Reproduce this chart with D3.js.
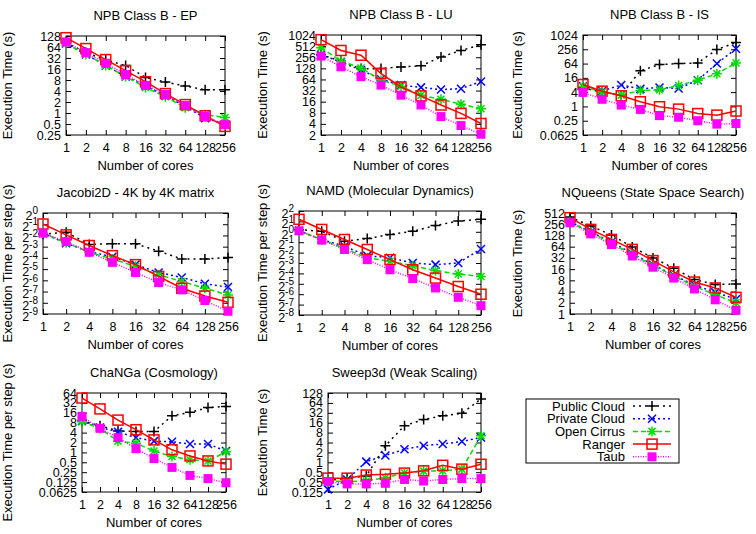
<!DOCTYPE html>
<html>
<head>
<meta charset="utf-8">
<script src="https://cdn.jsdelivr.net/npm/d3@7"></script>
<style>
  body { margin: 0; background: #fff; }
  svg { font-family: "Liberation Sans", Arial, sans-serif; }
</style>
</head>
<body>
<svg id="chart" width="756" height="534"></svg>
<script>
let cores = [1, 2, 4, 8, 16, 32, 64, 128, 256];
let seriesNames = ["Public Cloud", "Private Cloud", "Open Cirrus", "Ranger", "Taub"];

// each panel: rows in the order of seriesNames
let epTimes = [
    [85, 45, 28, 20, 9.4, 7, 5.5, 4.3, 4.3],
    [80, 40, 20, 10, 5.5, 3, 1.5, 0.72, 0.5],
    [80, 40, 20, 10, 5, 2.8, 1.4, 0.9, 0.75],
    [115, 58, 29, 14.5, 7.2, 3.4, 1.7, 0.84, 0.43],
    [88, 45, 23, 11.3, 5.7, 3.2, 1.6, 0.8, 0.48]
];
let luTimes = [
    [300, 200, 125, 126, 140, 150, 260, 390, 560],
    [300, 190, 115, 65, 45, 39, 34, 36, 56],
    [465, 200, 131, 61, 42, 24, 18.5, 13.7, 10.3],
    [765, 390, 290, 92, 40, 23, 13, 7.7, 4.1],
    [275, 141, 76, 45, 24, 13, 6.3, 3.6, 2.1]
];
let isTimes = [
    [6, 4, 3, 32, 58, 64, 68, 250, 490],
    [7, 4.5, 8, 5.5, 6.3, 5.7, 12.7, 64, 270],
    [7, 4, 3, 4.7, 5, 7.6, 12.7, 24, 68],
    [8.4, 4.4, 2.8, 1.57, 0.97, 0.77, 0.5, 0.43, 0.64],
    [3.9, 2, 1.14, 0.75, 0.41, 0.35, 0.25, 0.18, 0.19]
];
let jacobiTimes = [
    [0.268, 0.304, 0.144, 0.149, 0.149, 0.0947, 0.0583, 0.0583, 0.0638],
    [0.287, 0.154, 0.0915, 0.067, 0.0412, 0.0254, 0.0186, 0.0127, 0.0103],
    [0.287, 0.159, 0.0884, 0.0583, 0.0372, 0.0221, 0.0146, 0.00962, 0.00635],
    [0.507, 0.259, 0.134, 0.0718, 0.0412, 0.0199, 0.00962, 0.00592, 0.00402],
    [0.287, 0.171, 0.0884, 0.0474, 0.0254, 0.0136, 0.00867, 0.00449, 0.00231]
];
let namdTimes = [
    [1.15, 1.04, 0.536, 0.637, 0.835, 1.04, 1.52, 2.04, 2.3],
    [1.07, 0.599, 0.379, 0.203, 0.177, 0.125, 0.112, 0.125, 0.319],
    [1.07, 0.599, 0.33, 0.177, 0.14, 0.104, 0.0748, 0.06, 0.0508],
    [2.3, 1.17, 0.599, 0.308, 0.156, 0.0797, 0.0458, 0.0261, 0.0156],
    [1.07, 0.574, 0.308, 0.156, 0.0797, 0.0442, 0.0237, 0.0127, 0.00729]
];
let nqueensTimes = [
    [400, 230, 131, 63, 32, 17, 8.4, 6.2, 6.4],
    [300, 160, 85, 42, 21, 11, 6, 3.8, 2.5],
    [300, 155, 80, 40, 20, 10.5, 5.5, 3.3, 2.0],
    [383, 186, 100, 54, 27, 13.5, 7.2, 5, 2.8],
    [280, 141, 73, 36, 18, 9.2, 4.7, 2.4, 1.25]
];
let changaTimes = [
    [9, 6.5, 4.5, 4.3, 4.3, 13, 16.5, 23, 25],
    [9, 5.7, 4.2, 2.8, 2.2, 2.1, 1.8, 1.8, 1.1],
    [8.6, 5.3, 2.2, 1.9, 1.1, 0.75, 0.6, 0.55, 1.04],
    [45, 21, 9.6, 4.9, 2.4, 1.2, 0.78, 0.55, 0.44],
    [12.5, 5.4, 2.8, 1.3, 0.65, 0.35, 0.2, 0.16, 0.12]
];
let sweepTimes = [
    [0.28, 0.33, 0.38, 3.2, 13, 20, 26, 31, 84],
    [0.15, 0.3, 1.05, 1.6, 2.5, 3.2, 3.6, 4.3, 5.7],
    [0.27, 0.26, 0.27, 0.34, 0.47, 0.54, 0.55, 0.62, 6.4],
    [0.33, 0.33, 0.41, 0.43, 0.47, 0.55, 0.81, 0.62, 0.87],
    [0.26, 0.22, 0.22, 0.23, 0.3, 0.27, 0.3, 0.32, 0.32]
];

// y tick labels
let epTicks = ["0.25", "0.5", "1", "2", "4", "8", "16", "32", "64", "128"];
let luTicks = ["2", "4", "8", "16", "32", "64", "128", "256", "512", "1024"];
let isTicks = ["0.0625", "0.25", "1", "4", "16", "64", "256", "1024"];
let jacobiExps = ["-9", "-8", "-7", "-6", "-5", "-4", "-3", "-2", "-1", "0"];
let namdExps = ["-8", "-7", "-6", "-5", "-4", "-3", "-2", "-1", "0", "1", "2"];
let nqueensTicks = ["1", "2", "4", "8", "16", "32", "64", "128", "256", "512"];
let changaTicks = ["0.0625", "0.125", "0.25", "0.5", "1", "2", "4", "8", "16", "32", "64"];
let sweepTicks = ["0.125", "0.25", "0.5", "1", "2", "4", "8", "16", "32", "64", "128"];

let styles = [
    { color: "#000000", dash: "2,4", marker: "plus" },
    { color: "#0000ff", dash: "2,3", marker: "cross" },
    { color: "#00dd00", dash: "5,3", marker: "star" },
    { color: "#ff0000", dash: null, marker: "box" },
    { color: "#ff00ff", dash: "1,1.5", marker: "fillbox" }
];

let panels = [
    { title: "NPB Class B - EP", ylabel: "Execution Time (s)", data: epTimes, ticks: epTicks, pow: false, l: 66, r: 225, t: 36, b: 135, lx: 7 },
    { title: "NPB Class B - LU", ylabel: "Execution Time (s)", data: luTimes, ticks: luTicks, pow: false, l: 321, r: 481, t: 35, b: 135, lx: 262 },
    { title: "NPB Class B - IS", ylabel: "Execution Time (s)", data: isTimes, ticks: isTicks, pow: false, l: 583, r: 736, t: 35, b: 135, lx: 517 },
    { title: "Jacobi2D - 4K by 4K matrix", ylabel: "Execution Time per step (s)", data: jacobiTimes, ticks: jacobiExps, pow: true, l: 43, r: 228, t: 213, b: 314, lx: 7 },
    { title: "NAMD (Molecular Dynamics)", ylabel: "Execution Time per step (s)", data: namdTimes, ticks: namdExps, pow: true, l: 299, r: 481, t: 211, b: 315, lx: 262 },
    { title: "NQueens (State Space Search)", ylabel: "Execution Time (s)", data: nqueensTimes, ticks: nqueensTicks, pow: false, l: 570, r: 736, t: 213, b: 314, lx: 517 },
    { title: "ChaNGa (Cosmology)", ylabel: "Execution Time per step (s)", data: changaTimes, ticks: changaTicks, pow: false, l: 82, r: 226, t: 393, b: 492, lx: 7 },
    { title: "Sweep3d (Weak Scaling)", ylabel: "Execution Time (s)", data: sweepTimes, ticks: sweepTicks, pow: false, l: 328, r: 481, t: 393, b: 492, lx: 262 }
];

let svg = d3.select("#chart");

function drawMarker(g, type, color) {
    if (type === "plus") {
        g.append("path").attr("d", "M-5,0H5M0,-5V5")
            .attr("stroke", color).attr("stroke-width", 1.5).attr("fill", "none");
    } else if (type === "cross") {
        g.append("path").attr("d", "M-4,-4L4,4M-4,4L4,-4")
            .attr("stroke", color).attr("stroke-width", 1.5).attr("fill", "none");
    } else if (type === "star") {
        g.append("path").attr("d", "M-5,0H5M0,-5V5M-3.5,-3.5L3.5,3.5M-3.5,3.5L3.5,-3.5")
            .attr("stroke", color).attr("stroke-width", 1.5).attr("fill", "none");
    } else if (type === "box") {
        g.append("rect").attr("x", -5).attr("y", -5).attr("width", 10).attr("height", 10)
            .attr("stroke", color).attr("stroke-width", 1.5).attr("fill", "none");
    } else {
        g.append("rect").attr("x", -4.5).attr("y", -4.5).attr("width", 9).attr("height", 9)
            .attr("fill", color);
    }
}

panels.forEach(p => {
    let yValues = p.ticks.map(s => p.pow ? Math.pow(2, +s) : +s);

    let xScale = d3.scaleLog().base(2)
        .domain([1, 256])
        .range([p.l, p.r]);
    let yScale = d3.scaleLog().base(2)
        .domain(d3.extent(yValues))
        .range([p.b, p.t]);

    let g = svg.append("g");

    // x axis (ticks inward), mirrored on top
    let xAxis = d3.axisBottom(xScale)
        .tickValues(cores)
        .tickFormat(d3.format("d"))
        .tickSizeInner(-5).tickSizeOuter(0).tickPadding(8);
    g.append("g").attr("transform", `translate(0,${p.b})`).call(xAxis);
    g.append("g").attr("transform", `translate(0,${p.t})`)
        .call(d3.axisTop(xScale).tickValues(cores).tickFormat("").tickSizeInner(-5).tickSizeOuter(0));

    // y axis, mirrored on the right
    let yAxis = d3.axisLeft(yScale)
        .tickValues(yValues)
        .tickFormat((d, i) => p.ticks[i])
        .tickSizeInner(-5).tickSizeOuter(0).tickPadding(5);
    let yg = g.append("g").attr("transform", `translate(${p.l},0)`).call(yAxis);
    g.append("g").attr("transform", `translate(${p.r},0)`)
        .call(d3.axisRight(yScale).tickValues(yValues).tickFormat("").tickSizeInner(-5).tickSizeOuter(0));

    g.selectAll(".domain").remove();
    g.selectAll(".tick line").attr("stroke", "#000");
    g.selectAll(".tick text").attr("fill", "#000").attr("font-size", 12.5)
        .attr("font-family", "Liberation Sans, Arial, sans-serif");

    if (p.pow) {
        yg.selectAll(".tick text").each(function(d, i) {
            let t = d3.select(this);
            t.text("2").attr("dy", "0.5em");
            t.append("tspan").attr("dy", "-0.55em").attr("font-size", 10).text(p.ticks[i]);
        });
    }

    g.append("rect")
        .attr("x", p.l).attr("y", p.t)
        .attr("width", p.r - p.l).attr("height", p.b - p.t)
        .attr("fill", "none").attr("stroke", "#000").attr("stroke-width", 1);

    // series
    let line = d3.line()
        .x((d, i) => xScale(cores[i]))
        .y(d => yScale(d));

    p.data.forEach((vals, si) => {
        let st = styles[si];
        let path = g.append("path")
            .attr("d", line(vals))
            .attr("fill", "none")
            .attr("stroke", st.color)
            .attr("stroke-width", 1.5);
        if (st.dash) path.attr("stroke-dasharray", st.dash);

        vals.forEach((v, i) => {
            let mg = g.append("g").attr("transform", `translate(${xScale(cores[i])},${yScale(v)})`);
            drawMarker(mg, st.marker, st.color);
        });
    });

    // titles and labels
    let cx = (p.l + p.r) / 2;
    let cy = (p.t + p.b) / 2;
    svg.append("text").attr("x", cx).attr("y", p.t - 16)
        .attr("text-anchor", "middle").attr("font-size", 13).text(p.title);
    svg.append("text").attr("x", cx).attr("y", p.b + 35)
        .attr("text-anchor", "middle").attr("font-size", 13).text("Number of cores");
    svg.append("text")
        .attr("transform", `translate(${p.lx},${cy}) rotate(-90)`)
        .attr("text-anchor", "middle").attr("dy", "0.35em")
        .attr("font-size", 13).text(p.ylabel);
});

// legend
let legend = svg.append("g");
legend.append("rect")
    .attr("x", 526).attr("y", 399).attr("width", 153).attr("height", 64)
    .attr("fill", "#fff").attr("stroke", "#000").attr("stroke-width", 1);

seriesNames.forEach((name, i) => {
    let y = 406 + i * 12.7;
    let st = styles[i];
    legend.append("text").attr("x", 625).attr("y", y).attr("dy", "0.35em")
        .attr("text-anchor", "end").attr("font-size", 13).text(name);
    let ln = legend.append("line")
        .attr("x1", 633).attr("x2", 671).attr("y1", y).attr("y2", y)
        .attr("stroke", st.color).attr("stroke-width", 1.5);
    if (st.dash) ln.attr("stroke-dasharray", st.dash);
    drawMarker(legend.append("g").attr("transform", `translate(652,${y})`), st.marker, st.color);
});
</script>
</body>
</html>
